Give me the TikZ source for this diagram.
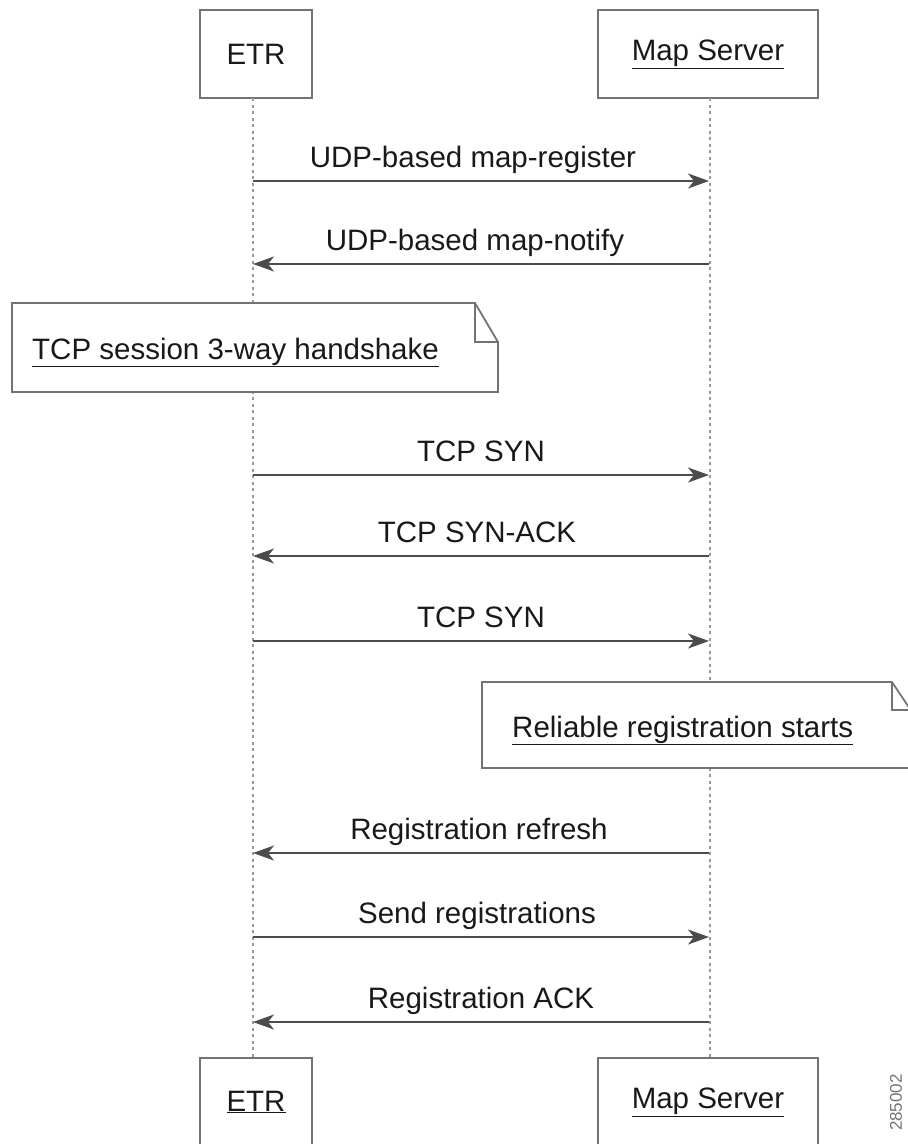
\documentclass[tikz,border=0pt]{standalone}
\usepackage{fontspec}
\setmainfont{Liberation Sans}
\usetikzlibrary{arrows.meta}
\begin{document}
\begin{tikzpicture}[x=1pt,y=-1pt,
  actor/.style={draw=black!55, line width=1.8pt, fill=white, minimum height=88pt, inner sep=0pt, font=\fontsize{29.5}{35}\selectfont, text=black!90},
  lifeline/.style={draw=black!40, line width=2.4pt, dash pattern=on 3pt off 3.5pt},
  msg/.style={draw=black!70, line width=2pt, -{Stealth[length=21pt,width=15pt,inset=6pt]}},
  lbl/.style={font=\fontsize{29.5}{35}\selectfont, text=black!90, anchor=base, inner sep=0pt, yshift=14pt},
  notebox/.style={draw=black!55, line width=1.8pt, fill=white, line join=miter},
  notetext/.style={font=\fontsize{29.5}{35}\selectfont, text=black!90, anchor=base west, inner sep=0pt}
]
\useasboundingbox (0,0) rectangle (908,1144);
\clip (0,0) rectangle (908,1144);

% actors
\node[actor, minimum width=112pt] (etrT) at (256,54) {ETR};
\node[actor, minimum width=220pt] (msT) at (708,54) {\underline{Map Server}};
\node[actor, minimum width=112pt] (etrB) at (256,1102) {\underline{ETR}};
\node[actor, minimum width=220pt] (msB) at (708,1102) {\underline{Map Server}};

% lifelines
\coordinate (eTop) at (253,98);
\coordinate (eBot) at (253,1058);
\coordinate (mTop) at (710,98);
\coordinate (mBot) at (710,1058);
\draw[lifeline] (eTop) -- (eBot);
\draw[lifeline] (mTop) -- (mBot);

% notes
\draw[notebox] (12,303) -- (475,303) -- (498,342) -- (498,392) -- (12,392) -- cycle;
\draw[notebox, fill=none] (475,303) -- (475,342) -- (498,342);
\node[notetext] (note1) at (32,359) {\underline{TCP session 3-way handshake}};

\draw[notebox] (482,682) -- (892,682) -- (916,718) -- (916,768) -- (482,768) -- cycle;
\draw[notebox, fill=none] (892,682) -- (892,710) -- (916,710);
\node[notetext] (note2) at (512,737) {\underline{Reliable registration starts}};

% message anchor points
\foreach \i/\y in {1/181,2/264,3/475,4/556,5/641,6/853,7/937,8/1022}{
  \coordinate (e\i) at (253,\y);
  \coordinate (m\i) at (709,\y);
}

\draw[msg] (e1) -- node[lbl, xshift=-8pt] (l1) {UDP-based map-register} (m1);
\draw[msg] (m2) -- node[lbl, xshift=-6pt] (l2) {UDP-based map-notify} (e2);
\draw[msg] (e3) -- node[lbl] (l3) {TCP SYN} (m3);
\draw[msg] (m4) -- node[lbl, xshift=-4pt] (l4) {TCP SYN-ACK} (e4);
\draw[msg] (e5) -- node[lbl] (l5) {TCP SYN} (m5);
\draw[msg] (m6) -- node[lbl, xshift=-2pt] (l6) {Registration refresh} (e6);
\draw[msg] (e7) -- node[lbl, xshift=-4pt] (l7) {Send registrations} (m7);
\draw[msg] (m8) -- node[lbl] (l8) {Registration ACK} (e8);

% figure id
\node[rotate=90, anchor=east, font=\fontsize{17}{20}\selectfont, text=black!55, inner sep=0pt] (figid) at (896,1074) {285002};
\end{tikzpicture}
\end{document}
